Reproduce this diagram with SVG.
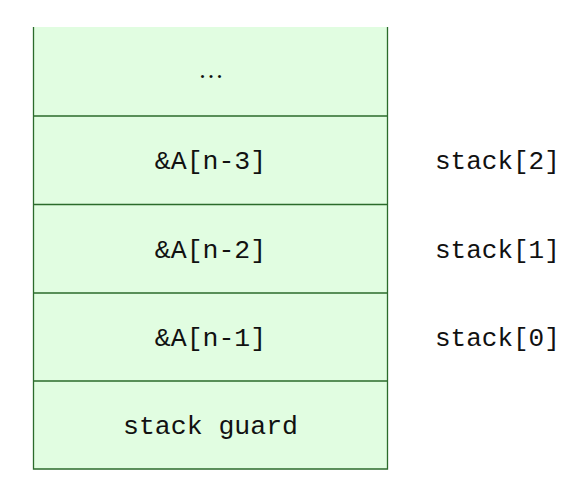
<svg xmlns="http://www.w3.org/2000/svg" width="582" height="503" viewBox="0 0 582 503">
<style>
.cell{fill:#e1fde1;stroke:none}
.line{stroke:#2b6b2b;stroke-width:1.3;fill:none}
.t{font-family:"Liberation Mono","DejaVu Sans Mono",monospace;font-size:26.5px;fill:#111;text-anchor:middle}
.l{font-family:"Liberation Mono","DejaVu Sans Mono",monospace;font-size:26px;fill:#111;text-anchor:start}
.d{font-family:"Liberation Serif",serif;font-size:26px;fill:#111;text-anchor:middle;letter-spacing:2px}
</style>
<rect width="582" height="503" fill="#fff"/>
<g id="node-top">
<rect class="cell" x="33.5" y="27" width="354" height="89"/>
<text class="d" x="212" y="78">...</text>
</g>
<g id="node-n3">
<rect class="cell" x="33.5" y="116" width="354" height="88.5"/>
<text class="t" x="210.5" y="169">&amp;A[n-3]</text>
</g>
<g id="node-n2">
<rect class="cell" x="33.5" y="204.5" width="354" height="88.5"/>
<text class="t" x="210.5" y="257.5">&amp;A[n-2]</text>
</g>
<g id="node-n1">
<rect class="cell" x="33.5" y="293" width="354" height="88"/>
<text class="t" x="210.5" y="346">&amp;A[n-1]</text>
</g>
<g id="node-guard">
<rect class="cell" x="33.5" y="381" width="354" height="88"/>
<text class="t" x="210.5" y="434">stack guard</text>
</g>
<g id="connectors">
<path class="line" d="M33.5,27 V469 H387.5 V27 M33.5,116 H387.5 M33.5,204.5 H387.5 M33.5,293 H387.5 M33.5,381 H387.5"/>
</g>
<g id="labels">
<text class="l" x="435" y="169">stack[2]</text>
<text class="l" x="435" y="257.5">stack[1]</text>
<text class="l" x="435" y="346">stack[0]</text>
</g>
</svg>
